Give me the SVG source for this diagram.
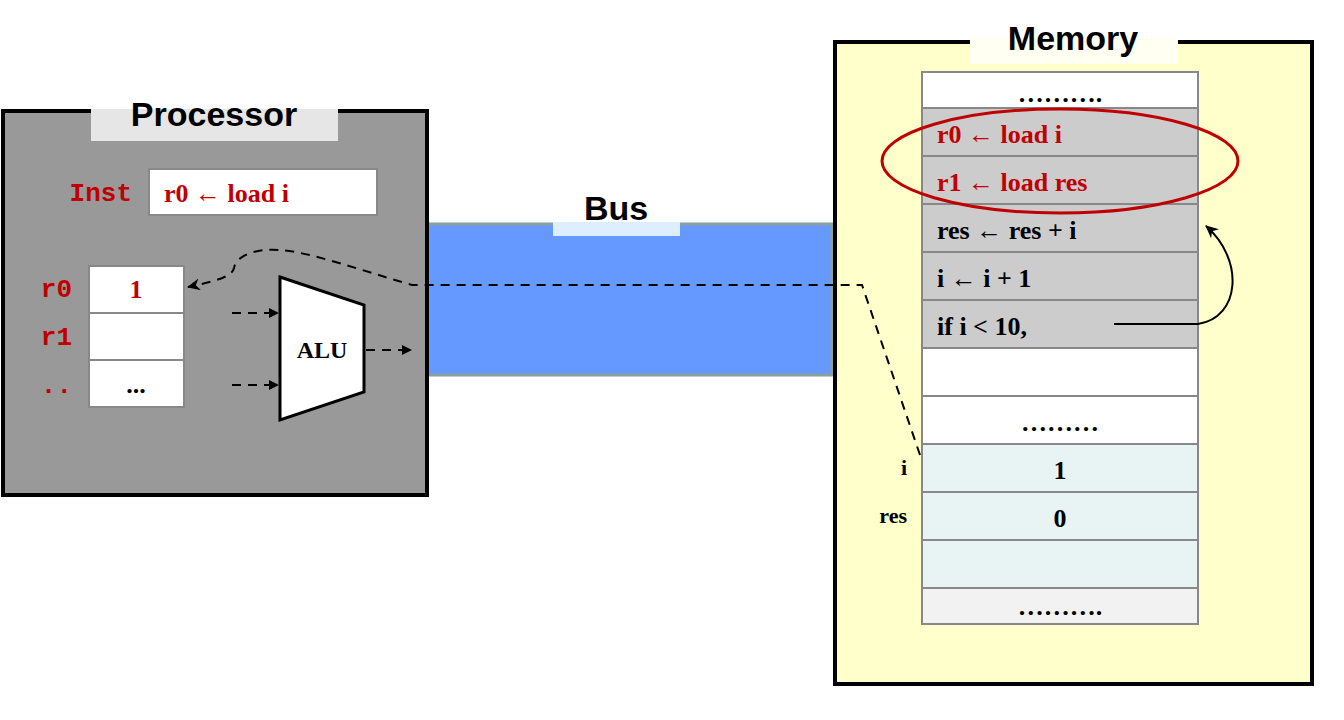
<svg xmlns="http://www.w3.org/2000/svg" width="1344" height="720" viewBox="0 0 1344 720">
<style>
.ser{font-family:"Liberation Serif",serif;font-weight:bold;font-size:26px}
.red{fill:#c00000}
.mono{font-family:"Liberation Mono",monospace;font-weight:bold;font-size:26px;fill:#c00000}
.ttl{font-family:"Liberation Sans",Arial,sans-serif;font-weight:bold;font-size:34px}
.cell{stroke:#888;stroke-width:2}
.dash{fill:none;stroke:#000;stroke-width:2;stroke-dasharray:9,7}
</style>
<defs>
<marker id="ah" markerWidth="10" markerHeight="10" refX="9" refY="5" orient="auto" markerUnits="userSpaceOnUse"><path d="M0,0L10,5L0,10z" fill="#000"/></marker>
<marker id="ah2" markerWidth="14" markerHeight="12" refX="12" refY="6" orient="auto" markerUnits="userSpaceOnUse"><path d="M0,0L13,6L0,12L4,6z" fill="#000"/></marker>
</defs>
<g id="bus">
<rect x="428" y="224" width="404" height="151" fill="#6699ff" stroke="#88a0a0" stroke-width="3"/>
<rect x="553" y="222" width="127" height="14" fill="#ddeeff"/>
<text x="616" y="220" text-anchor="middle" class="ttl">Bus</text>
</g>
<g id="processor">
<rect x="3" y="111" width="424" height="384" fill="#999" stroke="#000" stroke-width="4"/>
<rect x="91" y="109" width="247" height="32" fill="#e6e6e6"/>
<text x="214" y="126" text-anchor="middle" class="ttl">Processor</text>
<text x="132" y="201" text-anchor="end" class="mono">Inst</text>
<rect x="149" y="169" width="228" height="46" fill="#fff" class="cell"/>
<text x="164" y="202" class="ser red">r0  ← load i</text>
<text x="72" y="297" text-anchor="end" class="mono">r0</text>
<text x="72" y="345" text-anchor="end" class="mono">r1</text>
<text x="72" y="393" text-anchor="end" class="mono">..</text>
<rect x="89" y="266" width="95" height="47" fill="#fff" class="cell"/>
<rect x="89" y="313" width="95" height="47" fill="#fff" class="cell"/>
<rect x="89" y="360" width="95" height="47" fill="#fff" class="cell"/>
<text x="136" y="298" text-anchor="middle" class="ser red">1</text>
<text x="136" y="393" text-anchor="middle" class="ser">...</text>
</g>
<g id="alu">
<polygon points="280,277 364,305 364,392 280,420" fill="#fff" stroke="#000" stroke-width="3"/>
<text x="322" y="358" text-anchor="middle" class="ser" style="font-size:24px">ALU</text>
</g>
<g id="memory">
<rect x="835" y="42" width="477" height="642" fill="#ffffcc" stroke="#000" stroke-width="4"/>
<rect x="970" y="38" width="208" height="26" fill="#fffff2"/>
<text x="1073" y="50" text-anchor="middle" class="ttl">Memory</text>
<rect x="922" y="72" width="276" height="36" fill="#fff" class="cell"/>
<rect x="922" y="108" width="276" height="48" fill="#ccc" class="cell"/>
<rect x="922" y="156" width="276" height="48" fill="#ccc" class="cell"/>
<rect x="922" y="204" width="276" height="48" fill="#ccc" class="cell"/>
<rect x="922" y="252" width="276" height="48" fill="#ccc" class="cell"/>
<rect x="922" y="300" width="276" height="48" fill="#ccc" class="cell"/>
<rect x="922" y="348" width="276" height="48" fill="#fff" class="cell"/>
<rect x="922" y="396" width="276" height="48" fill="#fff" class="cell"/>
<rect x="922" y="444" width="276" height="48" fill="#e8f4f4" class="cell"/>
<rect x="922" y="492" width="276" height="48" fill="#e8f4f4" class="cell"/>
<rect x="922" y="540" width="276" height="48" fill="#e8f4f4" class="cell"/>
<rect x="922" y="588" width="276" height="36" fill="#f2f2f2" class="cell"/>
<text x="1060" y="102" text-anchor="middle" class="ser">……….</text>
<text x="937" y="143" class="ser red">r0  ← load i</text>
<text x="937" y="191" class="ser red">r1  ← load res</text>
<text x="937" y="239" class="ser">res ← res + i</text>
<text x="937" y="287" class="ser">i     ← i + 1</text>
<text x="937" y="335" class="ser">if i &lt; 10,</text>
<text x="1060" y="431" text-anchor="middle" class="ser">………</text>
<text x="1060" y="479" text-anchor="middle" class="ser">1</text>
<text x="1060" y="527" text-anchor="middle" class="ser">0</text>
<text x="1060" y="615" text-anchor="middle" class="ser">……….</text>
<text x="907" y="475" text-anchor="end" class="ser" style="font-size:22px">i</text>
<text x="907" y="523" text-anchor="end" class="ser" style="font-size:22px">res</text>
<ellipse cx="1060" cy="161" rx="178" ry="52" fill="none" stroke="#c00000" stroke-width="3"/>
</g>
<g id="connectors">
<path class="dash" d="M920,455 L862,285 L412,285 C360,270 310,252 280,250 C255,248 236,256 234,268 C232,278 210,282 188,287" marker-end="url(#ah2)"/>
<path class="dash" d="M232,313 L278,313" marker-end="url(#ah)"/>
<path class="dash" d="M232,385 L278,385" marker-end="url(#ah)"/>
<path class="dash" d="M366,350 L411,350" marker-end="url(#ah)"/>
<path d="M1114,324 L1198,324 C1240,318 1245,260 1206,226" fill="none" stroke="#000" stroke-width="2" marker-end="url(#ah2)"/>
</g>
</svg>
